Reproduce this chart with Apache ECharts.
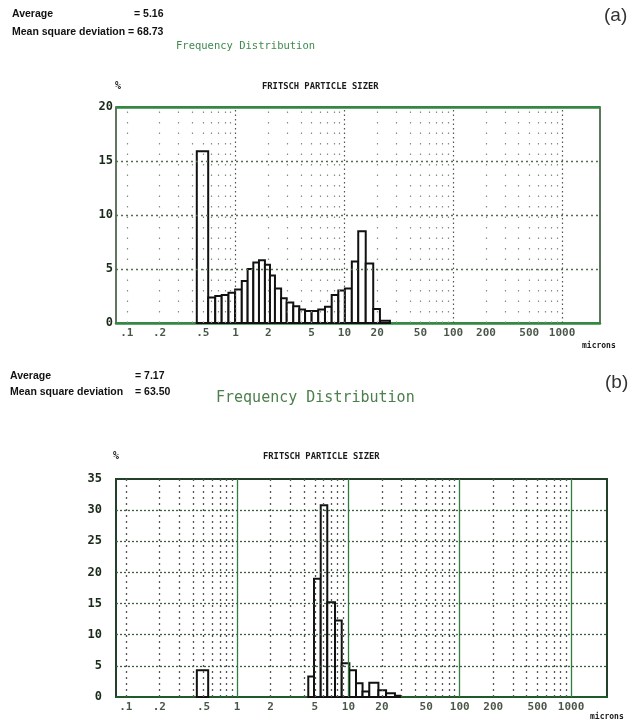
<!DOCTYPE html>
<html><head><meta charset="utf-8">
<script src="https://cdn.jsdelivr.net/npm/echarts@6/dist/echarts.min.js"></script>
<style>html,body{margin:0;padding:0;background:#fff}#c{width:638px;height:724px}</style>
</head><body><div id="c"></div>
<script>
// ---------- data ----------
// Panel (a): histogram bin edges (microns) and frequency (%)
const edgesA = [0.44,0.56,0.65,0.745,0.86,0.99,1.14,1.29,1.455,1.64,1.86,2.07,2.3,2.62,2.95,3.39,3.85,4.35,5.0,5.75,6.63,7.64,8.79,10.1,11.7,13.4,15.7,18.4,21.2,26.2];
const valuesA = [15.9,2.35,2.5,2.6,2.8,3.1,3.9,5.0,5.6,5.8,5.4,4.4,3.2,2.3,1.9,1.55,1.25,1.1,1.1,1.25,1.5,2.6,3.0,3.2,5.7,8.5,5.5,1.3,0.2];
// Panel (b): bins (lower / upper edge, microns) and frequency (%)
const lowB = [0.435,4.36,4.91,5.64,6.46,7.58,8.71,10.2,11.7,13.4,15.4,18.6,21.8,26.2];
const highB = [0.55,4.91,5.64,6.46,7.58,8.71,10.2,11.7,13.4,15.4,18.6,21.8,26.2,29.1];
const valuesB = [4.3,3.3,19.0,30.8,15.2,12.3,5.4,4.3,2.2,0.9,2.3,1.1,0.6,0.2];
// Axis ticks
const tickValuesX = [0.1,0.2,0.5,1,2,5,10,20,50,100,200,500,1000];
const tickLabelsX = ['.1','.2','.5','1','2','5','10','20','50','100','200','500','1000'];
const majorX = [1,10,100,1000];
const minorX = [0.1,0.2,0.3,0.4,0.5,0.6,0.7,0.8,0.9,2,3,4,5,6,7,8,9,20,30,40,50,60,70,80,90,200,300,400,500,600,700,800,900];
const hLinesA = [5,10,15];
const hLinesB = [5,10,15,20,25,30];
// Header texts
const statsA = {avg:'= 5.16', msd:'= 68.73'};
const statsB = {avg:'= 7.17', msd:'= 63.50'};

// ---------- chart ----------
const mono = '"DejaVu Sans Mono", "Liberation Mono", monospace';
const sans = '"Liberation Sans", Arial, sans-serif';
const chart = echarts.init(document.getElementById('c'), null, {renderer:'canvas'});

function renderBar(params, api){
  const p0 = api.coord([api.value(0), 0]);
  const p1 = api.coord([api.value(1), api.value(2)]);
  return {type:'rect', shape:{x:p0[0], y:p1[1], width:p1[0]-p0[0], height:p0[1]-p1[1]},
          style:{fill:'#fff', stroke:'#111', lineWidth:2}};
}
const barsA = valuesA.map((v,i)=>[edgesA[i], edgesA[i+1], v]);
const barsB = valuesB.map((v,i)=>[lowB[i], highB[i], v]);

function gridSeries(idx, hLines, minorStyle, majorStyle, hStyle){
  const data = [];
  minorX.forEach(x=>data.push({xAxis:x, lineStyle:minorStyle}));
  majorX.forEach(x=>data.push({xAxis:x, lineStyle:majorStyle}));
  hLines.forEach(y=>data.push({yAxis:y, lineStyle:hStyle}));
  return {type:'line', xAxisIndex:idx, yAxisIndex:idx, data:[], z:1, silent:true,
    markLine:{silent:true, symbol:'none', label:{show:false}, animation:false, data:data}};
}
function tickSeries(idx){
  return {type:'scatter', xAxisIndex:idx, yAxisIndex:idx, clip:false, symbolSize:1, z:5,
    itemStyle:{color:'rgba(0,0,0,0)'}, silent:true,
    data: tickValuesX.map(v=>[v,0]),
    label:{show:true, position:'bottom', distance:4, formatter:p=>tickLabelsX[p.dataIndex],
      fontFamily:mono, fontWeight:'bold', fontSize:11, color:'#1a2a1a'}};
}
function txt(text, left, top, font, color){
  return {type:'text', left:left, top:top, style:{text:text, font:font, fill:color||'#111'}};
}

const yLabel = (m)=>({fontFamily:mono, fontWeight:'bold', fontSize:12, color:'#1a2a1a', margin:m});

chart.setOption({
  animation:false,
  backgroundColor:'#fff',
  grid:[
    {left:116, top:107, width:484, height:216, show:true, borderColor:'#2b4a2e', borderWidth:1.5, backgroundColor:'transparent'},
    {left:116, top:479, width:491, height:218, show:true, borderColor:'#23402a', borderWidth:2, backgroundColor:'transparent'}
  ],
  xAxis:[
    {type:'log', gridIndex:0, min:0.0796, max:2233, axisLabel:{show:false}, axisTick:{show:false}, splitLine:{show:false},
     axisLine:{show:true, lineStyle:{color:'#2f8a3f', width:2.5}}},
    {type:'log', gridIndex:1, min:0.0817, max:2104, axisLabel:{show:false}, axisTick:{show:false}, splitLine:{show:false},
     axisLine:{show:true, lineStyle:{color:'#1f5a2c', width:2}}}
  ],
  yAxis:[
    {type:'value', gridIndex:0, min:0, max:20, interval:5, axisLine:{show:false}, axisTick:{show:false}, splitLine:{show:false}, axisLabel:yLabel(3)},
    {type:'value', gridIndex:1, min:0, max:35, interval:5, axisLine:{show:false}, axisTick:{show:false}, splitLine:{show:false}, axisLabel:yLabel(14)}
  ],
  series:[
    gridSeries(0, hLinesA,
      {color:'#8a8a8a', type:[1.5,9], width:1.2},
      {color:'#555', type:[1.5,3], width:1.2},
      {color:'#4f704b', type:[2,3], width:1.3}),
    gridSeries(1, hLinesB,
      {color:'#555', type:[2,4], width:1.3},
      {color:'#2e7d3e', type:'solid', width:1.3},
      {color:'#3e5e44', type:[2,2], width:1.3}),
    {type:'line', xAxisIndex:0, yAxisIndex:0, data:[], z:3, silent:true,
     markLine:{silent:true, symbol:'none', label:{show:false}, data:[{yAxis:20, lineStyle:{color:'#2f8a3f', width:2.5, type:'solid'}}]}},
    {type:'custom', xAxisIndex:0, yAxisIndex:0, data:barsA, encode:{x:[0,1], y:2}, renderItem:renderBar, z:4, clip:false},
    {type:'custom', xAxisIndex:1, yAxisIndex:1, data:barsB, encode:{x:[0,1], y:2}, renderItem:renderBar, z:4, clip:false},
    tickSeries(0),
    tickSeries(1)
  ],
  graphic:[
    txt('Average', 12, 9, 'bold 10.5px '+sans),
    txt(statsA.avg, 134, 9, 'bold 10.5px '+sans),
    txt('Mean square deviation', 12, 27, 'bold 10.5px '+sans),
    txt(statsA.msd, 128, 27, 'bold 10.5px '+sans),
    txt('Frequency Distribution', 176, 41, '10.5px '+mono, '#3d8a4d'),
    txt('(a)', 604, 6, '19px '+sans, '#333'),
    txt('%', 115, 81, 'bold 10px '+mono, '#222'),
    txt('FRITSCH PARTICLE SIZER', 262, 82, 'bold 8.8px '+mono, '#1a1a1a'),
    txt('microns', 582, 342, 'bold 8px '+mono, '#1a1a1a'),

    txt('Average', 10, 371, 'bold 10.5px '+sans),
    txt(statsB.avg, 135, 371, 'bold 10.5px '+sans),
    txt('Mean square deviation', 10, 387, 'bold 10.5px '+sans),
    txt(statsB.msd, 135, 387, 'bold 10.5px '+sans),
    txt('Frequency Distribution', 216, 391, '15px '+mono, '#4c7f4c'),
    txt('(b)', 605, 373, '19px '+sans, '#333'),
    txt('%', 113, 451, 'bold 10px '+mono, '#222'),
    txt('FRITSCH PARTICLE SIZER', 263, 452, 'bold 8.8px '+mono, '#1a1a1a'),
    txt('microns', 590, 713, 'bold 8px '+mono, '#1a1a1a')
  ]
});
</script>
</body></html>
